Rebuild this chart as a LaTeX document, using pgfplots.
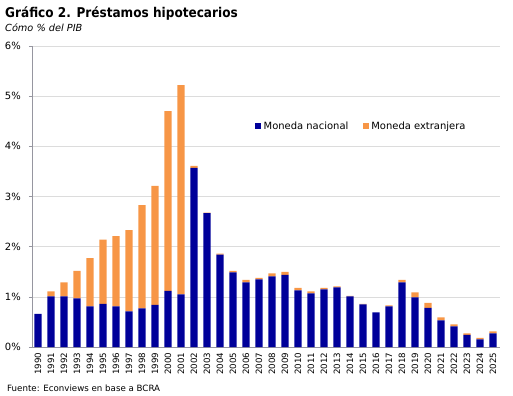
\documentclass[border=0pt]{standalone}
\usepackage{pgfplots}
\pgfplotsset{compat=1.18}
\usepackage{fontspec}
\setmainfont{DejaVu Sans}
\newfontfamily\condfont{DejaVu Sans Condensed}
\definecolor{nav}{RGB}{0,0,153}
\definecolor{ora}{RGB}{247,150,70}
\definecolor{gridc}{RGB}{220,220,220}
\definecolor{axc}{RGB}{150,150,160}
\begin{document}
\begin{tikzpicture}
\useasboundingbox (0bp,-396bp) rectangle (513bp,0bp);
\node[anchor=base west, font=\condfont\bfseries\fontsize{13.5}{15}\selectfont, inner sep=0] at (5bp,-17bp) {Gráfico 2. Préstamos hipotecarios};
\node[anchor=base west, font=\itshape\fontsize{9.8}{11}\selectfont, inner sep=0] at (5bp,-31bp) {Cómo \% del PIB};
\node[anchor=base west, font=\fontsize{8.7}{10}\selectfont, inner sep=0] at (7bp,-391bp) {Fuente: Econviews en base a BCRA};
\begin{axis}[
  at={(32bp,-347bp)}, anchor=south west, scale only axis,
  width=468bp, height=301bp,
  ybar stacked, bar width=7.3bp,
  xmin=-0.46, xmax=35.54, ymin=0, ymax=6,
  axis lines*=left,
  axis line style={axc, line width=0.6pt},
  ytick={0,1,2,3,4,5,6},
  yticklabel={\pgfmathprintnumber{\tick}\%},
  ymajorgrids, grid style={gridc, line width=0.6pt},
  major tick length=3bp,
  tick style={axc, line width=0.6pt},
  ytick align=outside,
  xtick={0,...,35},
  xticklabels={1990,1991,1992,1993,1994,1995,1996,1997,1998,1999,2000,2001,2002,2003,2004,2005,2006,2007,2008,2009,2010,2011,2012,2013,2014,2015,2016,2017,2018,2019,2020,2021,2022,2023,2024,2025},
  xtick style={draw=none},
  minor xtick={-0.5,0.5,...,35.5},
  minor tick length=3bp,
  xminorgrids=false,
  x tick label style={rotate=90, anchor=east, font=\fontsize{8.7}{10}\selectfont, inner ysep=0bp, inner xsep=5.5bp},
  y tick label style={font=\fontsize{10}{11}\selectfont, inner sep=0bp, xshift=-8bp},
  /pgf/number format/assume math mode=true,
  legend style={at={(0.4765,0.734)}, anchor=west, draw=none, fill=none,
    font=\fontsize{10}{11}\selectfont, legend columns=2,
    /tikz/every even column/.append style={column sep=12bp},
    inner sep=0pt, nodes={inner xsep=2.5bp}},
  legend image code/.code={\fill[#1] (0bp,-3bp) rectangle (6bp,3bp);},
]
\addplot[fill=nav, draw=none] coordinates {
(0,0.66) (1,1.01) (2,1.01) (3,0.97) (4,0.81) (5,0.86) (6,0.81) (7,0.71) (8,0.77) (9,0.84)
(10,1.12) (11,1.05) (12,3.57) (13,2.67) (14,1.84) (15,1.49) (16,1.29) (17,1.35) (18,1.41) (19,1.44)
(20,1.13) (21,1.07) (22,1.15) (23,1.19) (24,1.01) (25,0.85) (26,0.69) (27,0.81) (28,1.29) (29,0.99)
(30,0.78) (31,0.53) (32,0.41) (33,0.24) (34,0.15) (35,0.27)};
\addplot[fill=ora, draw=none] coordinates {
(0,0) (1,0.10) (2,0.28) (3,0.55) (4,0.96) (5,1.28) (6,1.40) (7,1.62) (8,2.06) (9,2.37)
(10,3.58) (11,4.17) (12,0.04) (13,0.01) (14,0.02) (15,0.03) (16,0.05) (17,0.03) (18,0.06) (19,0.06)
(20,0.05) (21,0.04) (22,0.03) (23,0.02) (24,0.01) (25,0.01) (26,0) (27,0.02) (28,0.05) (29,0.10)
(30,0.10) (31,0.06) (32,0.04) (33,0.03) (34,0.03) (35,0.04)};
\legend{Moneda nacional, Moneda extranjera}
\end{axis}
\end{tikzpicture}
\end{document}
